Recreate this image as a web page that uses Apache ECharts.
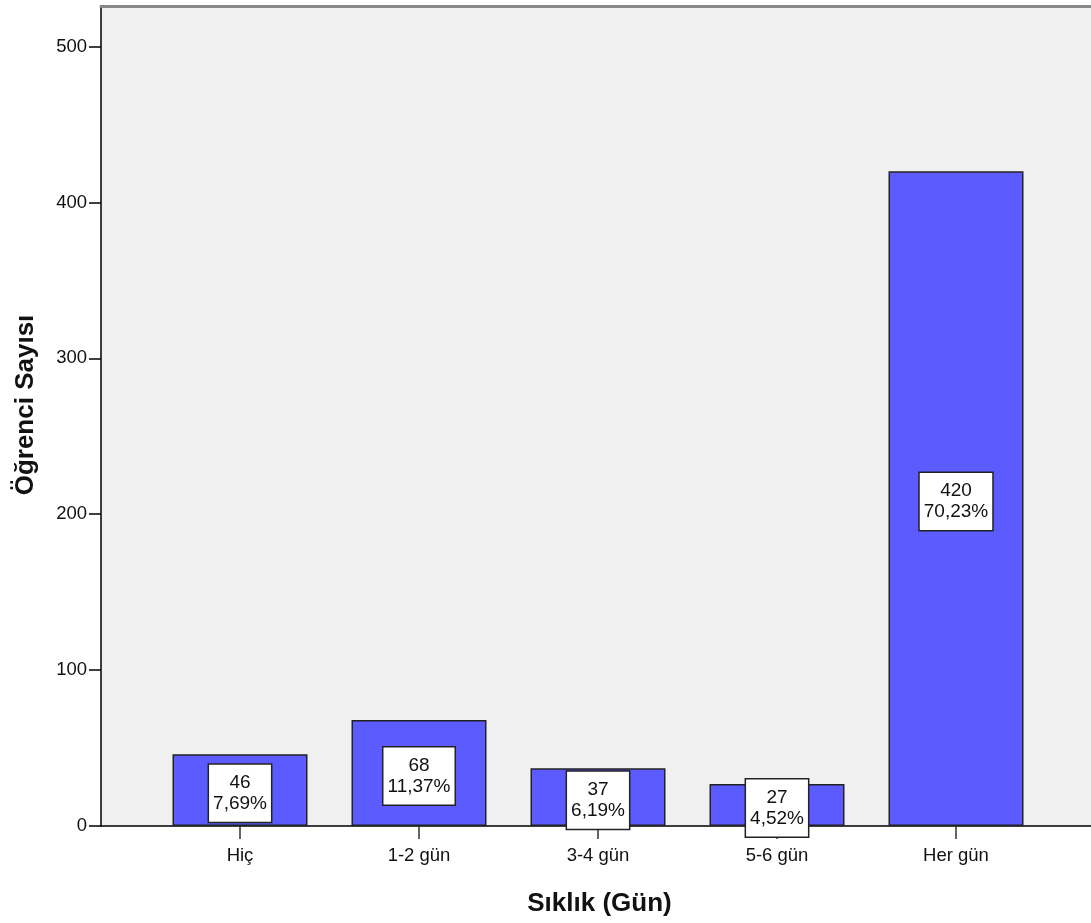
<!DOCTYPE html>
<html>
<head>
<meta charset="utf-8">
<script src="https://cdn.jsdelivr.net/npm/echarts@6/dist/echarts.min.js"></script>
<style>
html,body{margin:0;padding:0;background:#fff;}
#c{width:1091px;height:923px;}
</style>
</head>
<body>
<div id="c"></div>
<script>
const categories = ["Hiç", "1-2 gün", "3-4 gün", "5-6 gün", "Her gün"];
const counts = [46, 68, 37, 27, 420];
const percents = ["7,69%", "11,37%", "6,19%", "4,52%", "70,23%"];
const yTicks = [0, 100, 200, 300, 400, 500];
const yMax = 526;

const chart = echarts.init(document.getElementById('c'));
const font = '"Liberation Sans", Arial, sans-serif';
chart.setOption({
  animation: false,
  backgroundColor: '#fff',
  grid: [
    {left: 101, right: 0, top: 6, bottom: 97, show: true, backgroundColor: '#F0F0F0', borderWidth: 0},
    {left: 150.5, right: 45.5, top: 6, bottom: 97}
  ],
  xAxis: [
    {gridIndex: 0, type: 'value', min: 0, max: 1,
     axisLine: {show: true, lineStyle: {color: '#000', width: 1.5}},
     axisTick: {show: false}, axisLabel: {show: false}, splitLine: {show: false},
     name: 'Sıklık (Gün)', nameLocation: 'middle', nameGap: 65,
     nameTextStyle: {fontFamily: font, fontSize: 26, fontWeight: 'bold', color: '#111', padding: [0, 0, 0, 7]}},
    {gridIndex: 0, type: 'value', min: 0, max: 1, position: 'top',
     axisLine: {show: true, lineStyle: {color: '#888', width: 3}},
     axisTick: {show: false}, axisLabel: {show: false}, splitLine: {show: false}},
    {gridIndex: 1, type: 'category', data: categories,
     axisLine: {show: false},
     axisTick: {show: true, alignWithLabel: true, length: 13, lineStyle: {color: '#333', width: 1.5}},
     axisLabel: {fontFamily: font, fontSize: 18.5, color: '#111', margin: 20}}
  ],
  yAxis: [
    {gridIndex: 0, type: 'value', min: 0, max: yMax,
     axisLine: {show: true, lineStyle: {color: '#000', width: 1.5}},
     axisTick: {show: true, length: 12, customValues: yTicks, lineStyle: {color: '#000', width: 1.5}},
     axisLabel: {fontFamily: font, fontSize: 18.5, color: '#111', margin: 14, customValues: yTicks},
     splitLine: {show: false},
     name: 'Öğrenci Sayısı', nameLocation: 'middle', nameGap: 62,
     nameTextStyle: {fontFamily: font, fontSize: 26, fontWeight: 'bold', color: '#111', padding: [0, 0, 0, 22]}},
    {gridIndex: 1, type: 'value', min: 0, max: yMax, show: false}
  ],
  series: [{
    type: 'bar',
    xAxisIndex: 2, yAxisIndex: 1,
    data: counts,
    barWidth: 135,
    itemStyle: {color: '#5B5BFF', borderColor: '#222', borderWidth: 1.5},
    label: {
      show: true, position: 'inside', offset: [0, 3],
      formatter: p => counts[p.dataIndex] + '\n' + percents[p.dataIndex],
      fontFamily: font, fontSize: 19, lineHeight: 21, color: '#111',
      backgroundColor: '#fff', borderColor: '#222', borderWidth: 1.5,
      padding: [8, 4, 7, 4]
    }
  }]
});
</script>
</body>
</html>
